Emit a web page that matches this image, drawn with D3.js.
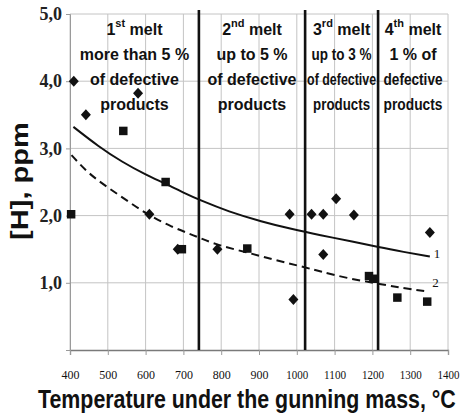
<!DOCTYPE html>
<html>
<head>
<meta charset="utf-8">
<script src="https://cdn.jsdelivr.net/npm/d3@7"></script>
<style>
  html, body { margin: 0; padding: 0; background: #fff; }
  svg { display: block; }
</style>
</head>
<body>
<svg id="chart" width="465" height="417"></svg>
<script>
// ---- data ----
const xTicks = [400, 500, 600, 700, 800, 900, 1000, 1100, 1200, 1300, 1400];
const yTicks = [1, 2, 3, 4, 5];
const regionBounds = [741, 1022, 1215];

// series 1 (diamonds)
const diamondTemp = [410, 442, 580, 610, 685, 790, 981, 991, 1039, 1070, 1104, 1151, 1070, 1352];
const diamondH    = [4.0, 3.5, 3.82, 2.02, 1.5, 1.5, 2.02, 0.75, 2.02, 2.02, 2.25, 2.01, 1.42, 1.75];

// series 2 (squares)
const squareTemp = [403, 541, 653, 696, 869, 1191, 1202, 1266, 1345];
const squareH    = [2.02, 3.26, 2.5, 1.5, 1.51, 1.10, 1.06, 0.78, 0.72];

// curve 1 (solid)
const curve1Temp = [409, 475, 537, 603, 651, 704, 744, 819, 907, 986, 1061, 1150, 1216, 1282, 1352];
const curve1H    = [3.32, 3.03, 2.80, 2.60, 2.48, 2.33, 2.23, 2.06, 1.91, 1.80, 1.71, 1.61, 1.53, 1.46, 1.39];

// curve 2 (dashed)
const curve2Temp = [404, 448, 497, 554, 607, 669, 726, 784, 863, 942, 1022, 1061, 1132, 1211, 1282, 1348];
const curve2H    = [2.90, 2.63, 2.43, 2.21, 2.01, 1.83, 1.71, 1.57, 1.46, 1.34, 1.23, 1.17, 1.07, 0.99, 0.92, 0.87];

const regionLabels = [
  [{main: "1", sup: "st", rest: " melt"}, "more than 5 %", "of defective", "products"],
  [{main: "2", sup: "nd", rest: " melt"}, "up to 5 %", "of defective", "products"],
  [{main: "3", sup: "rd", rest: " melt"}, "up to 3 %", "of defective", "products"],
  [{main: "4", sup: "th", rest: " melt"}, "1 % of", "defective", "products"]
];
const curveLabels = ["1", "2"];
const xTitle = "Temperature under the gunning mass, °C";
const yTitle = "[H], ppm";

// ---- drawing ----
const svg = d3.select("#chart");
const x = d3.scaleLinear().domain([400, 1400]).range([70, 448]);
const y = d3.scaleLinear().domain([0, 5]).range([350, 14]);

const gridColor = "#c4c4c4";
const ink = "#111";

// squeeze a text horizontally to a target width (scaling transform)
function fitX(sel, tx, ty, width, rotate) {
  const natural = sel.node().getComputedTextLength();
  const s = Math.min(1, width / natural);
  sel.attr("transform", `translate(${tx},${ty})${rotate ? " rotate(-90)" : ""} scale(${s},1)`);
}

// gridlines
svg.append("g").selectAll("line").data(xTicks).join("line")
  .attr("x1", d => x(d)).attr("x2", d => x(d))
  .attr("y1", y(5)).attr("y2", y(0))
  .attr("stroke", gridColor).attr("stroke-width", 1);
svg.append("g").selectAll("line").data(yTicks).join("line")
  .attr("x1", x(400)).attr("x2", x(1400))
  .attr("y1", d => y(d)).attr("y2", d => y(d))
  .attr("stroke", gridColor).attr("stroke-width", 1);

// x axis
const xAxis = svg.append("g").attr("transform", `translate(0,${y(0)})`)
  .call(d3.axisBottom(x).tickValues(xTicks).tickSize(5).tickPadding(15).tickFormat(d => String(d)));
xAxis.select(".domain").attr("stroke", "#7a7a7a").attr("stroke-width", 1.3);
xAxis.selectAll(".tick line").attr("stroke", "#9a9a9a");
xAxis.selectAll(".tick text")
  .attr("font-family", "'Liberation Serif', 'Times New Roman', serif")
  .attr("font-size", 13).attr("fill", ink)
  .each(function(d) {
    const t = d3.select(this);
    const natural = this.getComputedTextLength();
    const s = (String(d).length === 3 ? 18 : 22) / natural;
    t.attr("transform", `scale(${s},1)`).attr("x", 0);
  });

// y axis
const yAxis = svg.append("g").attr("transform", `translate(${x(400)},0)`)
  .call(d3.axisLeft(y).tickValues(yTicks).tickSize(4).tickPadding(4)
    .tickFormat(d => d3.format(".1f")(d).replace(".", ",")));
yAxis.select(".domain").attr("stroke", "#9a9a9a");
yAxis.selectAll(".tick line").attr("stroke", "#9a9a9a");
yAxis.selectAll(".tick text")
  .attr("font-family", "'Liberation Serif', 'Times New Roman', serif")
  .attr("font-size", 18).attr("font-weight", "bold").attr("fill", "#222");

// region dividers
svg.append("g").selectAll("line").data(regionBounds).join("line")
  .attr("x1", d => x(d)).attr("x2", d => x(d))
  .attr("y1", 10).attr("y2", y(0))
  .attr("stroke", ink).attr("stroke-width", 2.6);

// region labels
const edges = [400, ...regionBounds, 1400];
const lineBase = [35, 60, 85, 110];
const fitWidths = [null, null,
  [null, 60, 69, 57],
  [null, 49, 59, 59]];
regionLabels.forEach((lines, i) => {
  const cx = (x(edges[i]) + x(edges[i + 1])) / 2;
  lines.forEach((ln, j) => {
    const t = svg.append("text")
      .attr("x", cx).attr("y", lineBase[j])
      .attr("text-anchor", "middle")
      .attr("font-family", "'Liberation Sans', Arial, sans-serif")
      .attr("font-weight", "bold").attr("font-size", 16).attr("fill", ink);
    if (typeof ln === "object") {
      t.append("tspan").text(ln.main);
      t.append("tspan").attr("font-size", 11).attr("dy", -8).text(ln.sup);
      t.append("tspan").attr("dy", 8).text(ln.rest);
    } else {
      t.text(ln);
      const fw = fitWidths[i] && fitWidths[i][j];
      if (fw) {
        t.attr("x", 0).attr("y", 0);
        fitX(t, cx, lineBase[j], fw, false);
      }
    }
  });
});

// curves
const line = d3.line().x(d => x(d[0])).y(d => y(d[1])).curve(d3.curveBasis);
svg.append("path").datum(curve1Temp.map((t, i) => [t, curve1H[i]]))
  .attr("d", line).attr("fill", "none").attr("stroke", ink).attr("stroke-width", 2);
svg.append("path").datum(curve2Temp.map((t, i) => [t, curve2H[i]]))
  .attr("d", line).attr("fill", "none").attr("stroke", ink).attr("stroke-width", 2)
  .attr("stroke-dasharray", "8,5");

// curve labels
[[curve1Temp, curve1H], [curve2Temp, curve2H]].forEach(([ts, hs], i) => {
  const n = ts.length - 1;
  svg.append("text")
    .attr("x", x(ts[n]) + 4).attr("y", y(hs[n]) + (i === 0 ? 1 : -5))
    .attr("font-family", "'Liberation Serif', 'Times New Roman', serif")
    .attr("font-size", 13).attr("fill", ink).text(curveLabels[i]);
});

// markers
svg.append("g").selectAll("path").data(diamondTemp.map((t, i) => [t, diamondH[i]])).join("path")
  .attr("d", d => {
    const cx = x(d[0]), cy = y(d[1]);
    return `M${cx},${cy - 5.5}L${cx + 5},${cy}L${cx},${cy + 5.5}L${cx - 5},${cy}Z`;
  })
  .attr("fill", ink);
svg.append("g").selectAll("path").data(squareTemp.map((t, i) => [t, squareH[i]])).join("path")
  .attr("transform", d => `translate(${x(d[0])},${y(d[1])})`)
  .attr("d", d3.symbol(d3.symbolSquare, 72))
  .attr("fill", ink);

// axis titles
const xt = svg.append("text")
  .attr("x", 0).attr("y", 0)
  .attr("font-family", "'Liberation Sans', Arial, sans-serif")
  .attr("font-weight", "bold").attr("font-size", 25).attr("fill", ink)
  .text(xTitle);
fitX(xt, 38, 408, 418, false);

const yt = svg.append("text")
  .attr("x", 0).attr("y", 0)
  .attr("text-anchor", "middle")
  .attr("font-family", "'Liberation Sans', Arial, sans-serif")
  .attr("font-weight", "bold").attr("font-size", 24).attr("fill", ink)
  .text(yTitle);
{
  const natural = yt.node().getComputedTextLength();
  const s = 118 / natural;
  yt.attr("transform", `translate(28,181) rotate(-90) scale(${s},1)`);
}
</script>
</body>
</html>
